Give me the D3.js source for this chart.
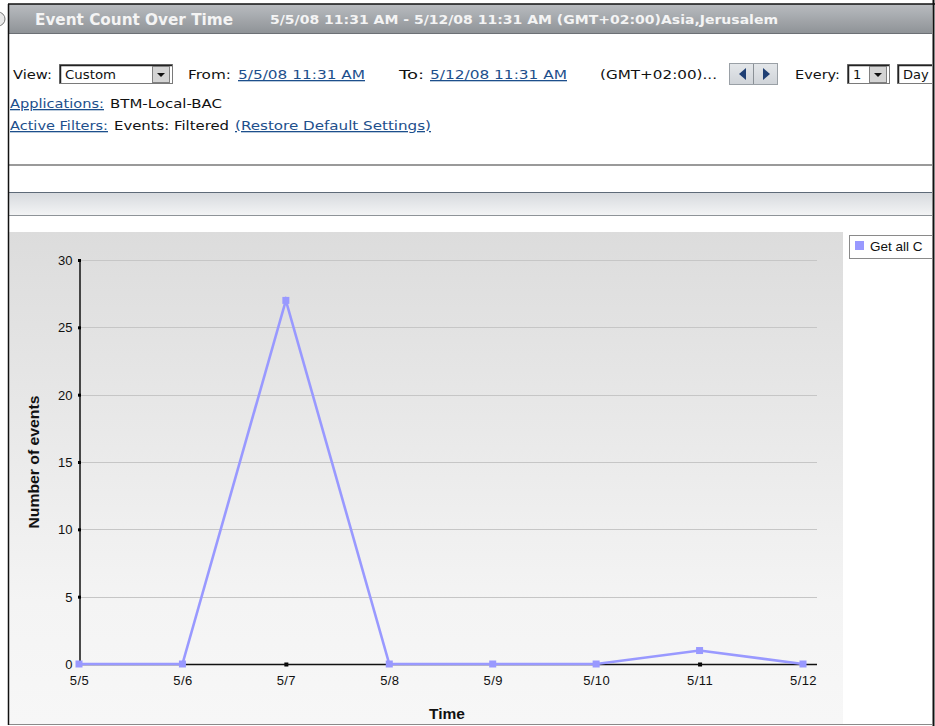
<!DOCTYPE html>
<html><head><meta charset="utf-8">
<script src="https://cdn.jsdelivr.net/npm/d3@7"></script>
<style>
html,body{margin:0;padding:0;background:#fff;overflow:hidden}
svg{display:block}
.ui{font-family:"DejaVu Sans",Verdana,sans-serif;font-size:13px;fill:#111}
.lnk{fill:#1d4f8c;text-decoration:underline}
.ch{font-family:"Liberation Sans",Arial,sans-serif;font-size:13px;fill:#111}
</style></head>
<body>
<script>
// ---- data ----
const categories = ["5/5","5/6","5/7","5/8","5/9","5/10","5/11","5/12"];
const eventCounts = [0,0,27,0,0,0,1,0];
const yTickValues = [0,5,10,15,20,25,30];
const seriesName = "Get all C";
const chartTitle = "Event Count Over Time";
const dateRange = "5/5/08 11:31 AM - 5/12/08 11:31 AM (GMT+02:00)Asia,Jerusalem";

const W = 935, H = 726;
const svg = d3.select("body").append("svg").attr("width", W).attr("height", H);
const defs = svg.append("defs");

// gradients
const hg = defs.append("linearGradient").attr("id","hdr").attr("x1",0).attr("y1",0).attr("x2",0).attr("y2",1);
hg.append("stop").attr("offset","0%").attr("stop-color","#b9bcc0");
hg.append("stop").attr("offset","100%").attr("stop-color","#8f9397");
const bg = defs.append("linearGradient").attr("id","band").attr("x1",0).attr("y1",0).attr("x2",0).attr("y2",1);
bg.append("stop").attr("offset","0%").attr("stop-color","#d6d9dd");
bg.append("stop").attr("offset","100%").attr("stop-color","#f4f5f6");
const cg = defs.append("linearGradient").attr("id","panel").attr("x1",0).attr("y1",0).attr("x2",0).attr("y2",1);
cg.append("stop").attr("offset","0%").attr("stop-color","#dcdcdc");
cg.append("stop").attr("offset","75%").attr("stop-color","#f4f4f4");
cg.append("stop").attr("offset","100%").attr("stop-color","#f7f7f7");
const btn = defs.append("linearGradient").attr("id","btn").attr("x1",0).attr("y1",0).attr("x2",0).attr("y2",1);
btn.append("stop").attr("offset","0%").attr("stop-color","#e4e7ea");
btn.append("stop").attr("offset","100%").attr("stop-color","#cfd3d8");
defs.append("clipPath").attr("id","clipR").append("rect").attr("x",0).attr("y",0).attr("width",932).attr("height",H);

const root = svg.append("g").attr("clip-path","url(#clipR)");

// ---- header ----
root.append("rect").attr("x",8).attr("y",4).attr("width",925).attr("height",29).attr("fill","url(#hdr)");
root.append("line").attr("x1",8).attr("x2",933).attr("y1",33.5).attr("y2",33.5).attr("stroke","#6c7075");
root.append("circle").attr("cx",-2).attr("cy",19).attr("r",7).attr("fill","#e8e8e8").attr("stroke","#777");
root.append("text").attr("x",35).attr("y",25).attr("fill","#f4f4f4")
  .style("font-family","'DejaVu Sans Condensed','DejaVu Sans',sans-serif").style("font-weight","bold").style("font-size","15px")
  .attr("textLength",198).attr("lengthAdjust","spacingAndGlyphs").text(chartTitle);
root.append("text").attr("x",270).attr("y",24).attr("fill","#f4f4f4")
  .style("font-family","'DejaVu Sans Condensed','DejaVu Sans',sans-serif").style("font-weight","bold").style("font-size","13px")
  .attr("textLength",508).attr("lengthAdjust","spacingAndGlyphs").text(dateRange);

// ---- controls ----
function txt(x,y,s,cls,len){const t=root.append("text").attr("x",x).attr("y",y).attr("class",cls||"ui").text(s); if(len) t.attr("textLength",len).attr("lengthAdjust","spacingAndGlyphs"); return t;}
function selectBox(x,y,w,h,label,len){
  root.append("rect").attr("x",x+0.5).attr("y",y+0.5).attr("width",w).attr("height",h).attr("fill","#fff").attr("stroke","#7a7a7a");
  root.append("path").attr("d",`M${x+1.5},${y+h}V${y+1.5}H${x+w}`).attr("fill","none").attr("stroke","#222").attr("stroke-width",1.5);
  if(label!=null) txt(x+6,y+15,label,null,len);
}
function dropBtn(x,y){
  root.append("rect").attr("x",x+0.5).attr("y",y+0.5).attr("width",17).attr("height",16).attr("fill","#d4d4d4").attr("stroke","#808080");
  root.append("path").attr("d",`M${x+5},${y+7}h8l-4,4z`).attr("fill","#111");
}
txt(13,79,"View:",null,39);
selectBox(59,64,113,19,"Custom",51); dropBtn(152,66);
txt(188,79,"From:",null,43);
txt(238,79,"5/5/08 11:31 AM","ui lnk",127);
txt(399,79,"To:",null,25);
txt(430,79,"5/12/08 11:31 AM","ui lnk",137);
txt(600,79,"(GMT+02:00)...",null,117);
root.append("rect").attr("x",729.5).attr("y",63.5).attr("width",48).attr("height",21).attr("fill","url(#btn)").attr("stroke","#9aa0a6");
root.append("line").attr("x1",753.5).attr("x2",753.5).attr("y1",64).attr("y2",84).attr("stroke","#8a9096");
root.append("path").attr("d","M739,74l7,-6v12z").attr("fill","#1f3f74");
root.append("path").attr("d","M770,74l-7,-6v12z").attr("fill","#1f3f74");
txt(795,79,"Every:",null,45);
selectBox(847,64,42,19,"1"); dropBtn(869,66);
selectBox(897,64,60,19,"Day");

txt(10,108,"Applications:","ui lnk",94);
txt(110,108,"BTM-Local-BAC",null,112);
txt(10,130,"Active Filters:","ui lnk",98);
txt(114,130,"Events: Filtered",null,115);
txt(235,130,"(Restore Default Settings)","ui lnk",196);

// separators
root.append("rect").attr("x",8).attr("y",164).attr("width",925).attr("height",2).attr("fill","#9a9a9a");
root.append("rect").attr("x",8).attr("y",192).attr("width",925).attr("height",24).attr("fill","url(#band)");
root.append("line").attr("x1",8).attr("x2",933).attr("y1",192.5).attr("y2",192.5).attr("stroke","#5e6a78");
root.append("line").attr("x1",8).attr("x2",933).attr("y1",215.5).attr("y2",215.5).attr("stroke","#8e9398");

// ---- chart panel ----
root.append("rect").attr("x",9).attr("y",232).attr("width",834).attr("height",492).attr("fill","url(#panel)");
root.append("line").attr("x1",8).attr("x2",933).attr("y1",724.5).attr("y2",724.5).attr("stroke","#8a8a8a");

const x = d3.scalePoint().domain(categories).range([79,803]);
const y = d3.scaleLinear().domain([0,30]).range([664,260]);
const xEnd = 817;

const g = root.append("g");
// gridlines
g.selectAll(".grid").data(yTickValues.filter(v=>v>0)).join("line")
  .attr("x1",79).attr("x2",xEnd).attr("y1",d=>Math.round(y(d))+0.5).attr("y2",d=>Math.round(y(d))+0.5)
  .attr("stroke","#c6c6c6").attr("stroke-width",1);

// y axis
const yAxis = d3.axisLeft(y).tickValues(yTickValues).tickSize(0).tickPadding(7);
const ya = g.append("g").attr("transform","translate(79.5,0)").call(yAxis);
ya.select(".domain").attr("stroke","#111").attr("stroke-width",1.5);
ya.selectAll("text").attr("class","ch").style("font-size","13px").attr("fill","#111").attr("dy","0.35em");
ya.selectAll(".tick").append("rect").attr("x",-1.5).attr("y",-1.5).attr("width",3).attr("height",3).attr("fill","#000");

// x axis
const xAxis = d3.axisBottom(x).tickSize(0).tickPadding(11);
const xa = g.append("g").attr("transform",`translate(0,${y(0)+0.5})`).call(xAxis);
xa.select(".domain").remove();
xa.append("line").attr("x1",79).attr("x2",xEnd).attr("stroke","#111").attr("stroke-width",1.5);
xa.selectAll("text").attr("class","ch").style("font-size","13px").style("letter-spacing","0.4px").attr("fill","#111");
xa.selectAll(".tick").append("rect").attr("x",-2).attr("y",-2).attr("width",4).attr("height",4).attr("fill","#000");

// axis titles
g.append("text").attr("transform",`translate(39,${y(15)}) rotate(-90)`).attr("text-anchor","middle")
  .attr("class","ch").style("font-weight","bold").style("font-size","15px").attr("textLength",133).attr("lengthAdjust","spacingAndGlyphs").text("Number of events");
g.append("text").attr("x",447).attr("y",719).attr("text-anchor","middle")
  .attr("class","ch").style("font-weight","bold").style("font-size","15.5px").text("Time");

// series
const data = categories.map((c,i)=>({c, v:eventCounts[i]}));
const color = "#9999ff";
g.append("path").datum(data)
  .attr("d", d3.line().x(d=>x(d.c)).y(d=>y(d.v)))
  .attr("fill","none").attr("stroke",color).attr("stroke-width",2.6).attr("stroke-linejoin","miter");
g.selectAll(".pt").data(data).join("rect")
  .attr("x",d=>x(d.c)-3.5).attr("y",d=>y(d.v)-3.5).attr("width",7).attr("height",7).attr("fill",color);

// legend
root.append("rect").attr("x",849.5).attr("y",235.5).attr("width",120).attr("height",23).attr("fill","#fff").attr("stroke","#8a8a8a");
root.append("rect").attr("x",855).attr("y",241).attr("width",9).attr("height",9).attr("fill",color);
root.append("text").attr("x",870).attr("y",251).attr("class","ch").style("font-size","13.5px").attr("fill","#333").text(seriesName);

// frame borders
svg.append("line").attr("x1",8).attr("x2",935).attr("y1",4).attr("y2",4).attr("stroke","#111").attr("stroke-width",1.5);
svg.append("line").attr("x1",8.5).attr("x2",8.5).attr("y1",4).attr("y2",725).attr("stroke","#111").attr("stroke-width",1.5);
svg.append("line").attr("x1",933.5).attr("x2",933.5).attr("y1",0).attr("y2",726).attr("stroke","#111").attr("stroke-width",2);
</script>
</body></html>
